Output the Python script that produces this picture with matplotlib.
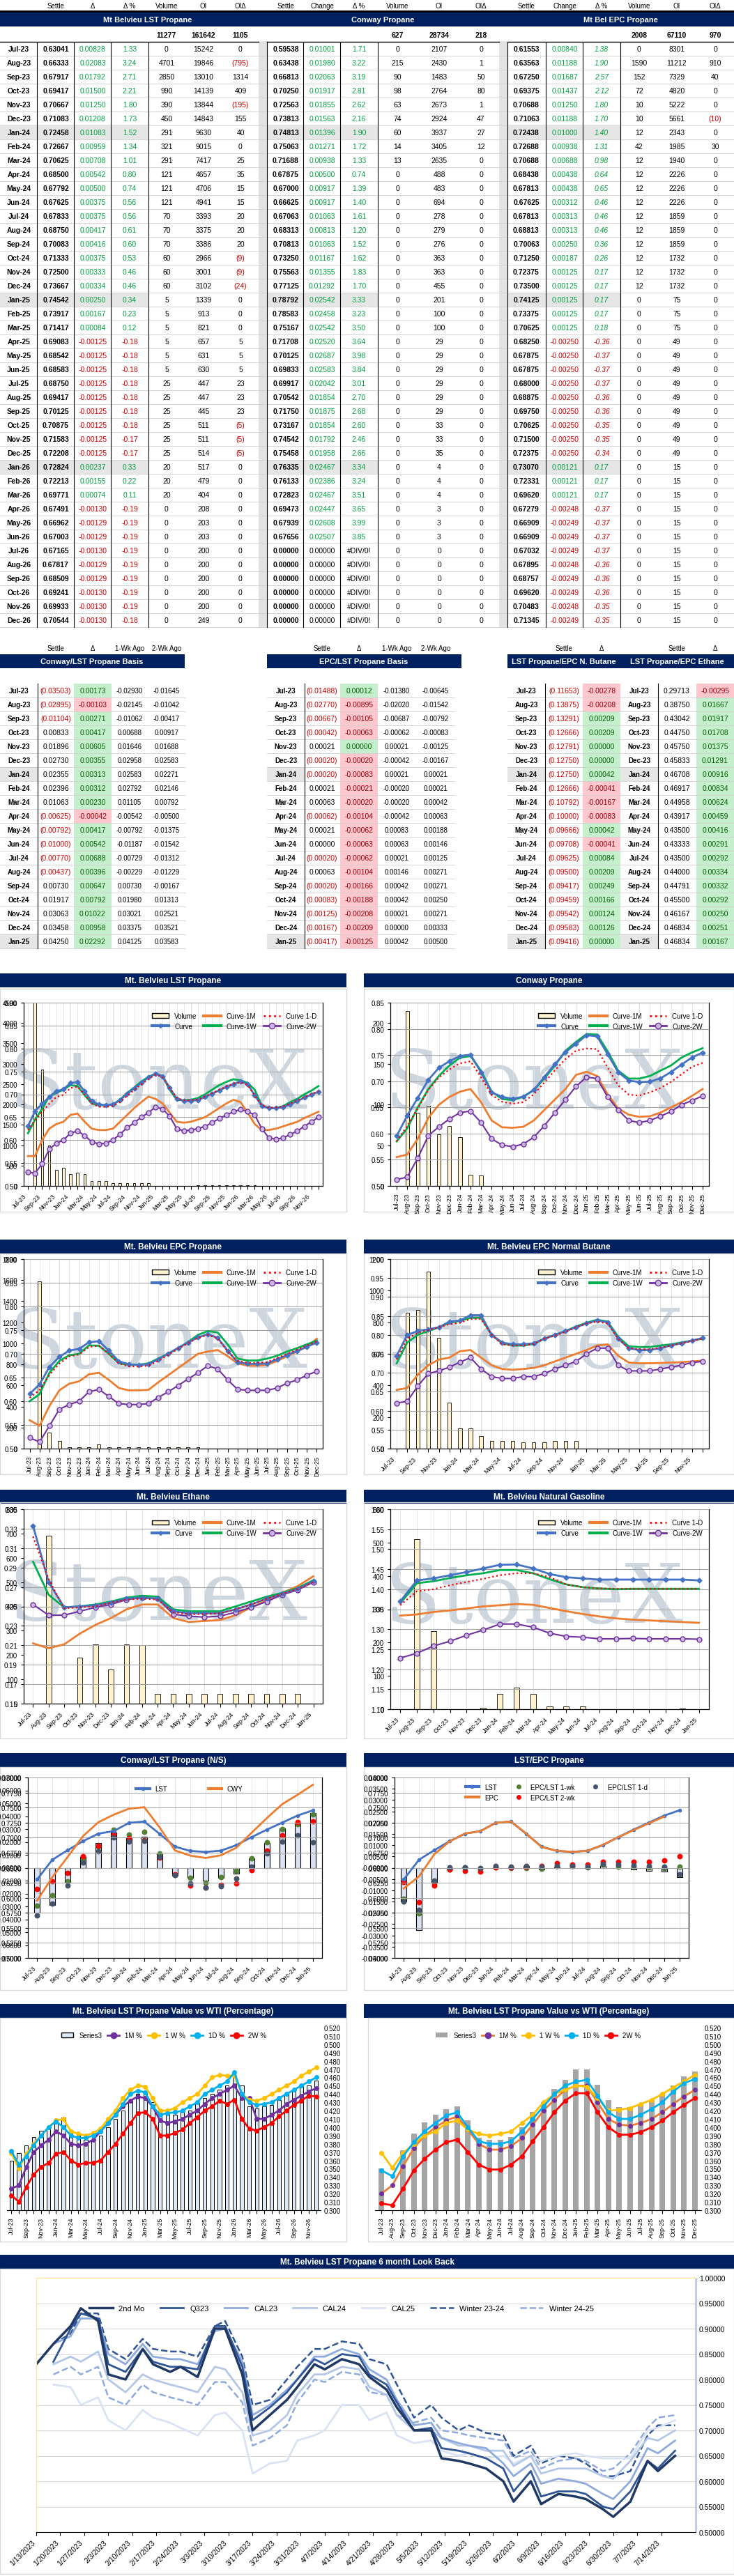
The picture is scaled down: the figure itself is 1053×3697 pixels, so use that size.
import numpy as np
import pandas as pd
import matplotlib
matplotlib.use("Agg")
import matplotlib.pyplot as plt
from matplotlib.patches import Rectangle
from matplotlib.lines import Line2D

plt.rcParams['font.family'] = ['Liberation Sans Narrow', 'Liberation Sans', 'DejaVu Sans']
W, H = 1053, 3698
NAVY = '#002060'

# ---------------- DATA ----------------
months42 = ['Jul-23','Aug-23','Sep-23','Oct-23','Nov-23','Dec-23','Jan-24','Feb-24','Mar-24','Apr-24','May-24','Jun-24',
            'Jul-24','Aug-24','Sep-24','Oct-24','Nov-24','Dec-24','Jan-25','Feb-25','Mar-25','Apr-25','May-25','Jun-25',
            'Jul-25','Aug-25','Sep-25','Oct-25','Nov-25','Dec-25','Jan-26','Feb-26','Mar-26','Apr-26','May-26','Jun-26',
            'Jul-26','Aug-26','Sep-26','Oct-26','Nov-26','Dec-26']

lst_settle = [0.63041,0.66333,0.67917,0.69417,0.70667,0.71083,0.72458,0.72667,0.70625,0.68500,0.67792,0.67625,0.67833,0.68750,
              0.70083,0.71333,0.72500,0.73667,0.74542,0.73917,0.71417,0.69083,0.68542,0.68583,0.68750,0.69417,0.70125,0.70875,
              0.71583,0.72208,0.72824,0.72213,0.69771,0.67491,0.66962,0.67003,0.67165,0.67817,0.68509,0.69241,0.69933,0.70544]
lst_chg = [0.00828,0.02083,0.01792,0.01500,0.01250,0.01208,0.01083,0.00959,0.00708,0.00542,0.00500,0.00375,0.00375,0.00417,
           0.00416,0.00375,0.00333,0.00334,0.00250,0.00167,0.00084,-0.00125,-0.00125,-0.00125,-0.00125,-0.00125,-0.00125,-0.00125,
           -0.00125,-0.00125,0.00237,0.00155,0.00074,-0.00130,-0.00129,-0.00129,-0.00130,-0.00129,-0.00129,-0.00130,-0.00130,-0.00130]
lst_pct = [1.33,3.24,2.71,2.21,1.80,1.73,1.52,1.34,1.01,0.80,0.74,0.56,0.56,0.61,0.60,0.53,0.46,0.46,0.34,0.23,0.12,-0.18,-0.18,
           -0.18,-0.18,-0.18,-0.18,-0.18,-0.17,-0.17,0.33,0.22,0.11,-0.19,-0.19,-0.19,-0.19,-0.19,-0.19,-0.19,-0.19,-0.18]
lst_vol = [0,4701,2850,990,390,450,291,321,291,121,121,121,70,70,70,60,60,60,5,5,5,5,5,5,25,25,25,25,25,25,20,20,20,0,0,0,0,0,0,0,0,0]
lst_oi = [15242,19846,13010,14139,13844,14843,9630,9015,7417,4657,4706,4941,3393,3375,3386,2966,3001,3102,1339,913,821,657,631,630,
          447,447,445,511,511,514,517,479,404,208,203,203,200,200,200,200,200,249]
lst_oid = [0,-795,1314,409,-195,155,40,0,25,35,15,15,20,20,20,-9,-9,-24,0,0,0,5,5,5,23,23,23,-5,-5,-5,0,0,0,0,0,0,0,0,0,0,0,0]
lst_tot = [11277,161642,1105]

cw_settle = [0.59538,0.63438,0.66813,0.70250,0.72563,0.73813,0.74813,0.75063,0.71688,0.67875,0.67000,0.66625,0.67063,0.68313,
             0.70813,0.73250,0.75563,0.77125,0.78792,0.78583,0.75167,0.71708,0.70125,0.69833,0.69917,0.70542,0.71750,0.73167,
             0.74542,0.75458,0.76335,0.76133,0.72823,0.69473,0.67939,0.67656,0,0,0,0,0,0]
cw_chg = [0.01001,0.01980,0.02063,0.01917,0.01855,0.01563,0.01396,0.01271,0.00938,0.00500,0.00917,0.00917,0.01063,0.00813,0.01063,
          0.01167,0.01355,0.01292,0.02542,0.02458,0.02542,0.02520,0.02687,0.02583,0.02042,0.01854,0.01875,0.01854,0.01792,0.01958,
          0.02467,0.02386,0.02467,0.02447,0.02608,0.02507,0,0,0,0,0,0]
cw_pct = [1.71,3.22,3.19,2.81,2.62,2.16,1.90,1.72,1.33,0.74,1.39,1.40,1.61,1.20,1.52,1.62,1.83,1.70,3.33,3.23,3.50,3.64,3.98,3.84,
          3.01,2.70,2.68,2.60,2.46,2.66,3.34,3.24,3.51,3.65,3.99,3.85,None,None,None,None,None,None]
cw_vol = [0,215,90,98,63,74,60,14,13] + [0]*33
cw_oi = [2107,2430,1483,2764,2673,2924,3937,3405,2635,488,483,694,278,279,276,363,363,455,201,100,100,29,29,29,29,29,29,33,33,35,
         4,4,4,3,3,3,0,0,0,0,0,0]
cw_oid = [0,1,50,80,1,47,27,12] + [0]*34
cw_tot = [627,28734,218]

epc_settle = [0.61553,0.63563,0.67250,0.69375,0.70688,0.71063,0.72438,0.72688,0.70688,0.68438,0.67813,0.67625,0.67813,0.68813,
              0.70063,0.71250,0.72375,0.73500,0.74125,0.73375,0.70625,0.68250,0.67875,0.67875,0.68000,0.68875,0.69750,0.70625,
              0.71500,0.72375,0.73070,0.72331,0.69620,0.67279,0.66909,0.66909,0.67032,0.67895,0.68757,0.69620,0.70483,0.71345]
epc_chg = [0.00840,0.01188,0.01687,0.01437,0.01250,0.01188,0.01000,0.00938,0.00688,0.00438,0.00438,0.00312,0.00313,0.00313,0.00250,
           0.00187,0.00125,0.00125,0.00125,0.00125,0.00125,-0.00250,-0.00250,-0.00250,-0.00250,-0.00250,-0.00250,-0.00250,-0.00250,
           -0.00250,0.00121,0.00121,0.00121,-0.00248,-0.00249,-0.00249,-0.00249,-0.00248,-0.00249,-0.00249,-0.00248,-0.00249]
epc_pct = [1.38,1.90,2.57,2.12,1.80,1.70,1.40,1.31,0.98,0.64,0.65,0.46,0.46,0.46,0.36,0.26,0.17,0.17,0.17,0.17,0.18,-0.36,-0.37,
           -0.37,-0.37,-0.36,-0.36,-0.35,-0.35,-0.34,0.17,0.17,0.17,-0.37,-0.37,-0.37,-0.37,-0.36,-0.36,-0.36,-0.35,-0.35]
epc_vol = [0,1590,152,72,10,10,12,42,12,12,12,12,12,12,12,12,12,12] + [0]*24
epc_oi = [8301,11212,7329,4820,5222,5661,2343,1985,1940,2226,2226,2226,1859,1859,1859,1732,1732,1732,75,75,75] + [49]*9 + [15]*12
epc_oid = [0,910,40,0,0,-10,0,30] + [0]*34
epc_tot = [2008,67110,970]

months19 = months42[:19]
cb_settle = [-0.03503,-0.02895,-0.01104,0.00833,0.01896,0.02730,0.02355,0.02396,0.01063,-0.00625,-0.00792,-0.01000,-0.00770,
             -0.00437,0.00730,0.01917,0.03063,0.03458,0.04250]
cb_d = [0.00173,-0.00103,0.00271,0.00417,0.00605,0.00355,0.00313,0.00312,0.00230,-0.00042,0.00417,0.00542,0.00688,0.00396,
        0.00647,0.00792,0.01022,0.00958,0.02292]
cb_1w = [-0.02930,-0.02145,-0.01062,0.00688,0.01646,0.02958,0.02583,0.02792,0.01105,-0.00542,-0.00792,-0.01187,-0.00729,-0.00229,
         0.00730,0.01980,0.03021,0.03375,0.04125]
cb_2w = [-0.01645,-0.01042,-0.00417,0.00917,0.01688,0.02583,0.02271,0.02146,0.00792,-0.00500,-0.01375,-0.01542,-0.01312,-0.01229,
         -0.00167,0.01313,0.02521,0.03521,0.03583]
eb_settle = [-0.01488,-0.02770,-0.00667,-0.00042,0.00021,-0.00020,-0.00020,0.00021,0.00063,-0.00062,0.00021,0.00000,-0.00020,
             0.00063,-0.00020,-0.00083,-0.00125,-0.00167,-0.00417]
eb_d = [0.00012,-0.00895,-0.00105,-0.00063,0.00000,-0.00020,-0.00083,-0.00021,-0.00020,-0.00104,-0.00062,-0.00063,-0.00062,
        -0.00104,-0.00166,-0.00188,-0.00208,-0.00209,-0.00125]
eb_1w = [-0.01380,-0.02020,-0.00687,-0.00062,0.00021,-0.00042,0.00021,-0.00020,-0.00020,-0.00042,0.00083,0.00063,0.00021,0.00146,
         0.00042,0.00042,0.00021,0.00000,0.00042]
eb_2w = [-0.00645,-0.01542,-0.00792,-0.00083,-0.00125,-0.00167,0.00021,0.00021,0.00042,0.00063,0.00188,0.00146,0.00125,0.00271,
         0.00271,0.00250,0.00271,0.00333,0.00500]
bu_settle = [-0.11653,-0.13875,-0.13291,-0.12666,-0.12791,-0.12750,-0.12750,-0.12666,-0.10792,-0.10000,-0.09666,-0.09708,-0.09625,
             -0.09500,-0.09417,-0.09459,-0.09542,-0.09583,-0.09416]
bu_d = [-0.00278,-0.00208,0.00209,0.00209,0.00000,0.00000,0.00042,-0.00041,-0.00167,-0.00083,0.00042,-0.00041,0.00084,0.00209,
        0.00249,0.00166,0.00124,0.00126,0.00000]
et_settle = [0.29713,0.38750,0.43042,0.44750,0.45750,0.45833,0.46708,0.46917,0.44958,0.43917,0.43500,0.43333,0.43500,0.44000,
             0.44791,0.45500,0.46167,0.46834,0.46834]
et_d = [-0.00295,0.01667,0.01917,0.01708,0.01375,0.01291,0.00916,0.00834,0.00624,0.00459,0.00416,0.00291,0.00292,0.00334,0.00332,
        0.00292,0.00250,0.00251,0.00167]

# chart series
lst_1w = [.615,.645,.668,.695,.703,.71,.72,.718,.698,.68,.676,.676,.678,.688,.703,.715,.728,.738,.745,.74,.71,.688,.687,.688,.692,
          .70,.71,.72,.727,.733,.73,.725,.71,.675,.67,.67,.674,.683,.69,.70,.708,.718]
lst_1m = [.565,.565,.60,.625,.635,.64,.655,.658,.64,.625,.622,.622,.625,.64,.655,.67,.683,.695,.69,.68,.66,.64,.638,.64,.645,.65,
          .66,.67,.68,.688,.683,.66,.635,.622,.622,.625,.63,.635,.64,.648,.655,.662]
lst_2w = [.530,.528,.548,.58,.593,.60,.615,.62,.61,.596,.592,.593,.60,.613,.627,.638,.65,.66,.672,.668,.652,.625,.62,.622,.625,.63,
          .638,.647,.655,.662,.667,.662,.655,.625,.605,.602,.605,.612,.62,.63,.64,.65]
cw_1w = [.585,.61,.65,.685,.71,.73,.745,.748,.72,.68,.666,.664,.67,.683,.705,.73,.758,.775,.79,.789,.757,.72,.705,.705,.71,.72,.73,
         .745,.755,.763]
cw_1m = [.555,.56,.59,.63,.655,.67,.68,.685,.66,.625,.612,.611,.613,.625,.645,.665,.685,.712,.718,.71,.675,.648,.636,.632,.633,.64,
         .65,.66,.672,.685]
cw_2w = [.512,.517,.553,.596,.613,.628,.64,.643,.621,.59,.578,.575,.58,.593,.615,.64,.665,.69,.708,.705,.67,.645,.625,.621,.625,
         .633,.642,.655,.663,.672]
epc_1w = [.60,.615,.66,.685,.697,.70,.718,.717,.70,.68,.677,.677,.68,.69,.70,.712,.725,.74,.748,.745,.72,.69,.686,.686,.69,.696,
          .705,.712,.72,.728]
epc_1m = [.56,.548,.59,.623,.637,.642,.657,.66,.645,.628,.623,.623,.624,.64,.655,.67,.685,.70,.705,.708,.695,.68,.675,.675,.677,
          .685,.695,.705,.715,.732]
epc_2w = [.523,.514,.548,.583,.593,.60,.62,.625,.61,.595,.593,.593,.595,.608,.62,.633,.647,.66,.675,.668,.645,.625,.623,.623,.623,
          .628,.638,.645,.655,.663]
bu_curve = [.745,.80,.81,.815,.82,.835,.838,.852,.852,.80,.78,.775,.775,.778,.79,.80,.81,.82,.83,.838,.833,.79,.765,.76,.76,.765,
            .772,.778,.785,.792]
bu_1w = [.725,.78,.80,.81,.82,.832,.837,.845,.845,.80,.778,.772,.772,.776,.79,.80,.81,.822,.832,.84,.835,.795,.77,.768,.768,.772,
         .775,.78,.785,.79]
bu_1d = [.735,.79,.805,.813,.82,.828,.832,.842,.842,.80,.775,.772,.772,.776,.79,.798,.808,.82,.83,.835,.83,.79,.765,.762,.762,.766,
         .772,.778,.784,.79]
bu_1m = [.655,.66,.695,.72,.735,.74,.757,.76,.74,.72,.71,.708,.71,.713,.72,.73,.74,.75,.76,.772,.775,.745,.727,.725,.725,.726,.727,
         .728,.73,.732]
bu_2w = [.62,.625,.665,.698,.705,.715,.728,.74,.71,.69,.685,.685,.69,.69,.698,.71,.72,.73,.75,.765,.765,.72,.705,.705,.705,.71,.715,
         .72,.727,.73]
bu_vol = [0,860,880,1120,700,290,130,130,80,50,50,50,40,40,40,50,50,50] + [0]*12
et_curve = [.333,.275,.249,.250,.251,.254,.258,.259,.258,.245,.243,.243,.243,.247,.252,.258,.263,.268,.276]
et_1w = [.296,.262,.249,.250,.252,.255,.259,.261,.260,.247,.245,.245,.245,.250,.255,.260,.264,.269,.277]
et_1d = [.322,.278,.248,.249,.250,.254,.257,.258,.257,.244,.242,.242,.243,.247,.252,.258,.263,.268,.275]
et_1m = [.212,.207,.211,.222,.231,.238,.247,.252,.252,.238,.234,.235,.236,.241,.249,.256,.264,.271,.281]
et_2w = [.252,.241,.241,.245,.249,.252,.257,.259,.258,.242,.240,.239,.240,.244,.249,.255,.262,.267,.275]
et_vol = [0,690,0,190,245,140,245,240,40,40,40,40,40,40,40,40,40,40,0]
ng_curve = [1.37,1.422,1.427,1.435,1.443,1.452,1.461,1.462,1.452,1.438,1.430,1.427,1.424,1.424,1.424,1.424,1.424,1.424,1.422]
ng_1w = [1.365,1.415,1.42,1.428,1.435,1.44,1.448,1.448,1.44,1.425,1.412,1.405,1.402,1.400,1.401,1.401,1.401,1.401,1.401]
ng_1d = [1.36,1.395,1.40,1.41,1.418,1.426,1.435,1.44,1.44,1.43,1.412,1.405,1.402,1.401,1.401,1.401,1.401,1.401,1.401]
ng_1m = [1.334,1.337,1.343,1.347,1.352,1.357,1.36,1.363,1.361,1.353,1.345,1.338,1.332,1.327,1.324,1.322,1.32,1.318,1.316]
ng_2w = [1.228,1.24,1.258,1.27,1.285,1.298,1.313,1.313,1.305,1.29,1.282,1.28,1.276,1.276,1.277,1.276,1.276,1.276,1.275]
ng_vol = [0,510,235,0,0,5,45,65,45,8,8,8,0,0,0,0,0,3,0]

wl_s3 = [.36,.369,.378,.388,.396,.40,.41,.412,.395,.39,.385,.385,.39,.40,.41,.42,.432,.44,.44,.43,.42,.415,.415,.418,.42,.43,.435,
         .44,.445,.45,.46,.45,.425,.423,.425,.427,.433,.44,.445,.45,.45,.456]
wl_1d = [.371,.355,.365,.378,.39,.40,.407,.40,.39,.387,.387,.39,.395,.405,.415,.428,.44,.444,.442,.425,.415,.417,.418,.42,.425,.43,
         .44,.445,.45,.455,.466,.44,.43,.427,.428,.43,.435,.44,.445,.45,.455,.46]
wl_1w = [.369,.350,.368,.38,.39,.40,.408,.41,.395,.392,.39,.393,.398,.41,.42,.435,.445,.45,.449,.435,.42,.42,.423,.43,.435,.44,.45,
         .46,.463,.462,.462,.44,.433,.432,.435,.44,.445,.45,.455,.462,.467,.472]
wl_1m = [.326,.33,.352,.37,.378,.385,.395,.39,.38,.378,.38,.385,.395,.405,.415,.425,.432,.437,.435,.425,.408,.405,.407,.41,.415,.42,
         .428,.435,.44,.445,.45,.435,.435,.41,.41,.415,.42,.428,.433,.438,.443,.447]
wl_2w = [.318,.31,.328,.343,.352,.357,.368,.37,.36,.355,.357,.357,.36,.37,.38,.392,.405,.417,.418,.41,.39,.39,.393,.397,.405,.412,
         .42,.425,.432,.428,.433,.41,.398,.396,.40,.405,.413,.42,.427,.432,.438,.437]
wr_s3 = [.35,.30,.372,.392,.406,.415,.422,.425,.408,.387,.385,.385,.388,.40,.418,.43,.446,.457,.47,.47,.451,.433,.424,.424,.428,.433,
         .44,.45,.461,.467]
wr_1d = [.348,.341,.365,.382,.395,.405,.414,.418,.40,.383,.38,.38,.383,.395,.41,.425,.44,.45,.455,.457,.438,.418,.41,.41,.415,.422,
         .43,.443,.453,.458]
wr_1w = [.369,.351,.369,.38,.39,.395,.405,.408,.397,.392,.39,.392,.395,.405,.415,.43,.44,.445,.45,.449,.435,.42,.421,.423,.428,.433,
         .44,.448,.455,.463]
wr_1m = [.32,.33,.353,.375,.39,.40,.408,.413,.397,.38,.373,.373,.377,.387,.403,.42,.433,.445,.45,.45,.43,.41,.403,.402,.405,.41,.418,
         .428,.437,.445]
wr_2w = [.308,.306,.326,.348,.362,.373,.382,.385,.37,.355,.349,.349,.355,.365,.383,.40,.418,.432,.441,.441,.418,.40,.391,.391,.394,
         .40,.408,.418,.427,.435]

lb_2nd = [.83,.87,.905,.94,.915,.81,.80,.86,.83,.815,.825,.805,.90,.90,.81,.70,.73,.76,.785,.83,.82,.84,.83,.805,.78,.745,.70,.70,
          .645,.64,.635,.625,.60,.56,.60,.555,.575,.57,.565,.545,.53,.56,.64,.62,.65]
lb_q323 = [np.nan,.835,.90,.93,.92,.83,.815,.86,.835,.825,.825,.82,.905,.905,.825,.72,.745,.775,.80,.84,.83,.85,.845,.81,.79,.755,
           .70,.705,.665,.66,.655,.645,.625,.58,.62,.57,.58,.58,.575,.55,.545,.58,.64,.625,.66]
lb_cal23 = [np.nan,.87,.885,.92,.92,.85,.83,.87,.845,.84,.84,.83,.895,.90,.835,.73,.75,.78,.80,.845,.845,.86,.85,.82,.80,.76,.71,
            .715,.685,.675,.67,.665,.635,.61,.635,.595,.605,.60,.595,.575,.565,.60,.665,.655,.68]
lb_cal24 = [np.nan,.83,.845,.835,.855,.80,.775,.81,.80,.79,.785,.775,.825,.82,.775,.69,.70,.73,.77,.81,.81,.825,.82,.785,.77,.73,
            .70,.70,.685,.67,.67,.66,.66,.63,.65,.615,.625,.625,.625,.61,.605,.64,.685,.68,.70]
lb_cal25 = [np.nan,.79,.785,.75,.765,.72,.70,.74,.725,.715,.705,.69,.73,.735,.70,.615,.635,.64,.68,.69,.70,.75,.75,.72,.735,.69,
            .675,.68,.66,.65,.655,.645,.65,.635,.65,.64,.65,.655,.65,.645,.645,.645,.70,.705,.72]
lb_w2324 = [np.nan,.87,.89,.93,.93,.86,.84,.88,.86,.855,.855,.845,.905,.915,.845,.75,.76,.80,.825,.86,.86,.875,.87,.84,.83,.79,
            .725,.75,.725,.70,.71,.695,.69,.65,.67,.635,.65,.645,.635,.61,.61,.62,.69,.71,.71]
lb_w2425 = [np.nan,.81,.825,.81,.825,.765,.75,.79,.775,.765,.76,.75,.795,.795,.755,.67,.685,.71,.755,.80,.795,.815,.81,.775,.77,
            .73,.715,.725,.70,.695,.69,.685,.68,.645,.66,.625,.64,.645,.64,.62,.625,.655,.705,.725,.73]

# ---------------- FIGURE ----------------
fig = plt.figure(figsize=(W/100, H/100), dpi=100)
fig.patch.set_facecolor('white')
A = fig.add_axes([0, 0, 1, 1])
A.set_xlim(0, W); A.set_ylim(H, 0); A.axis('off')

def add(x, y, w, h):
    return fig.add_axes([x/W, 1-(y+h)/H, w/W, h/H])

def rect(x, y, w, h, fc, ec='none', lw=0.6, z=1):
    A.add_patch(Rectangle((x, y), w, h, facecolor=fc, edgecolor=ec, lw=lw, zorder=z))

def txt(x, y, s, color='black', size=7.5, weight='normal', style='normal', ha='center'):
    A.text(x, y, s, color=color, fontsize=size, fontweight=weight, style=style, ha=ha, va='center', zorder=5)

GREEN, RED = '#00A040', '#D00000'

# ---- top table ----
blocks = [
    dict(name='Mt Belvieu LST Propane', cols=[80,133,186,239,292,345], x0=53, x1=371, settle=lst_settle, chg=lst_chg,
         pct=lst_pct, vol=lst_vol, oi=lst_oi, oid=lst_oid, tot=lst_tot, hdr=['Settle','Δ','Δ %','Volume','OI','OIΔ'], it=False),
    dict(name='Conway Propane', cols=[410,462,515,570,630,690], x0=383, x1=716, settle=cw_settle, chg=cw_chg,
         pct=cw_pct, vol=cw_vol, oi=cw_oi, oid=cw_oid, tot=cw_tot, hdr=['Settle','Change','Δ %','Volume','OI','OIΔ'], it=False),
    dict(name='Mt Bel EPC Propane', cols=[755,810,863,917,971,1026], x0=728, x1=1053, settle=epc_settle, chg=epc_chg,
         pct=epc_pct, vol=epc_vol, oi=epc_oi, oid=epc_oid, tot=epc_tot, hdr=['Settle','Change','Δ %','Volume','OI','OIΔ'], it=True),
]
rect(0, 18, W, 21, NAVY)
A.plot([0, W], [17, 17], color='black', lw=2, zorder=3)
rect(371, 60, 12, 842, '#e3e3e3'); rect(716, 60, 12, 842, '#e3e3e3')
for i, m in enumerate(months42):
    y = 71 + i*20
    if m.startswith('Jan'):
        rect(0, y-10, 212, 20, '#e6e6e6'); rect(383, y-10, 159, 20, '#e6e6e6'); rect(728, y-10, 162, 20, '#e6e6e6')
    txt(27, y, m, weight='bold')
    A.plot([0, W], [y+10, y+10], color='#d0d0d0', lw=0.6, zorder=2)
for b in blocks:
    c = b['cols']
    for cx, h in zip(c, b['hdr']):
        txt(cx, 9, h, size=7)
    txt((b['x0'] + b['x1'])/2, 28.5, b['name'], color='white', weight='bold', size=8)
    for cx, v in zip(c[3:], b['tot']):
        txt(cx, 51, str(v), weight='bold')
    A.plot([b['x0']-53 if b['x0'] == 53 else b['x0'], b['x1']], [61, 61], color='black', lw=1, zorder=3)
    for xx in [c[0]-27, c[1]-27, c[2]-27, c[2]+27]:
        A.plot([xx, xx], [61, 901], color='black', lw=0.8, zorder=3)
    for i in range(42):
        y = 71 + i*20
        s = b['settle'][i]; ch = b['chg'][i]; p = b['pct'][i]
        txt(c[0], y, f"{s:.5f}", weight='bold')
        col = GREEN if ch >= 0 else RED
        txt(c[1], y, f"{ch:.5f}", color=col if s != 0 else 'black')
        if p is None:
            txt(c[2], y, '#DIV/0!')
        else:
            txt(c[2], y, f"{p:.2f}", color=GREEN if p >= 0 else RED, style='italic' if b['it'] else 'normal')
        txt(c[3], y, str(b['vol'][i])); txt(c[4], y, str(b['oi'][i]))
        od = b['oid'][i]
        txt(c[5], y, f"({-od})" if od < 0 else str(od), color=RED if od < 0 else 'black')

# ---- second tables ----
def fmt_par(v):
    return (f"({-v:.5f})", RED) if v < 0 else (f"{v:.5f}", 'black')

def dcell(x, y, v):
    fc = '#C6EFCE' if v >= 0 else '#FFC7CE'
    rect(x-27, y-10, 54, 20, fc)
    txt(x, y, f"{v:.5f}", color='#006100' if v >= 0 else '#9C0006')

sec = [(0, 265, 'Conway/LST Propane Basis', [27,80,133,186,239], ['Settle','Δ','1-Wk Ago','2-Wk Ago']),
       (383, 662, 'EPC/LST Propane Basis', [410,462,515,569,625], ['Settle','Δ','1-Wk Ago','2-Wk Ago'])]
rect(0, 940, 265, 20, NAVY); rect(383, 940, 279, 20, NAVY); rect(728, 940, 325, 20, NAVY)
txt(132, 950, sec[0][2], color='white', weight='bold', size=8)
txt(522, 950, sec[1][2], color='white', weight='bold', size=8)
txt(809, 950, 'LST Propane/EPC N. Butane', color='white', weight='bold', size=8)
txt(971, 950, 'LST Propane/EPC Ethane', color='white', weight='bold', size=8)
for cx, h in zip([80,133,186,239], sec[0][4]): txt(cx, 931, h, size=7)
for cx, h in zip([462,515,569,625], sec[1][4]): txt(cx, 931, h, size=7)
for cx, h in zip([809,863,971,1026], ['Settle','Δ','Settle','Δ']): txt(cx, 931, h, size=7)
tabs = [([27,80,133,186,239], cb_settle, cb_d, cb_1w, cb_2w), ([410,462,515,569,625], eb_settle, eb_d, eb_1w, eb_2w)]
for i, m in enumerate(months19):
    y = 992 + i*20
    for c, st, d, w1, w2 in tabs:
        if m.startswith('Jan'): rect(c[0]-27, y-10, 54, 20, '#e6e6e6')
        txt(c[0], y, m, weight='bold', size=7)
        s, col = fmt_par(st[i]); txt(c[1], y, s, color=col)
        dcell(c[2], y, d[i])
        txt(c[3], y, f"{w1[i]:.5f}", size=7); txt(c[4], y, f"{w2[i]:.5f}", size=7)
        A.plot([c[0]-27, c[4]+27], [y+10, y+10], color='#d0d0d0', lw=0.6, zorder=2)
        A.plot([c[0]+27, c[0]+27], [y-10, y+10], color='black', lw=0.8, zorder=3)
    if m.startswith('Jan'):
        rect(728, y-10, 54, 20, '#e6e6e6'); rect(890, y-10, 54, 20, '#e6e6e6')
    txt(755, y, m, weight='bold', size=7); s, col = fmt_par(bu_settle[i]); txt(809, y, s, color=col); dcell(863, y, bu_d[i])
    txt(917, y, m, weight='bold', size=7); txt(971, y, f"{et_settle[i]:.5f}"); dcell(1026, y, et_d[i])
    A.plot([728, 1053], [y+10, y+10], color='#d0d0d0', lw=0.6, zorder=2)
    for xx in [782, 944]:
        A.plot([xx, xx], [y-10, y+10], color='black', lw=0.8, zorder=3)

# ---- chart helpers ----
def title_bar(y, x0, x1, t):
    rect(x0, y, x1-x0, 20, NAVY)
    txt((x0+x1)/2, y+10, t, color='white', weight='bold', size=8.5)

def box(x0, y0, x1, y1):
    A.add_patch(Rectangle((x0, y0), x1-x0, y1-y0, facecolor='none', edgecolor='#d9d9d9', lw=1, zorder=2))

C_CURVE, C_1W, C_1D, C_1M, C_2W = '#4472C4', '#00B050', '#FF0000', '#ED7D31', '#7030A0'

def curve_chart(px, labels, curve, c1w, c1d, c1m, c2w, vol, ylim, ystep, vlim, vstep, lstep, rot, leg_ncol=3, leg_y=0.98):
    av = add(*px)
    n = len(curve); x = np.arange(n)
    av.bar(x, vol, width=0.35, color='#FFF2CC', edgecolor='black', lw=0.6, zorder=2)
    av.set_ylim(*vlim); av.set_yticks(np.arange(vlim[0], vlim[1]+1, vstep))
    av.yaxis.tick_right(); av.tick_params(axis='y', labelsize=7, length=3)
    av.text(0.45, 0.55, 'StoneX', transform=av.transAxes, fontsize=85, family='DejaVu Serif', color='#cdd6df',
            ha='center', va='center', zorder=1)
    al = av.twinx(); al.yaxis.tick_left()
    al.plot(x, c1m, color=C_1M, lw=2, zorder=4)
    al.plot(x, c2w, color=C_2W, lw=1.5, marker='o', ms=5, mfc='#C9B8E0', mec=C_2W, zorder=4)
    al.plot(x, c1w, color=C_1W, lw=2, zorder=5)
    al.plot(x, curve, color=C_CURVE, lw=2, marker='D', ms=3.5, zorder=6)
    al.plot(x, c1d, color=C_1D, lw=1.6, ls=':', zorder=7)
    al.set_ylim(*ylim); al.set_yticks(np.arange(ylim[0], ylim[1]+ystep/2, ystep))
    al.yaxis.set_major_formatter(matplotlib.ticker.FormatStrFormatter('%.2f' if ystep >= 0.01 else '%.3f'))
    al.tick_params(axis='y', labelsize=7, length=3)
    al.grid(axis='y', color='#a6a6a6', lw=0.8)
    av.set_xticks(x); av.set_xticklabels([l if i % lstep == 0 else '' for i, l in enumerate(labels)], rotation=rot, fontsize=6.5,
                                         ha='right' if rot == 45 else 'center')
    av.grid(axis='x', color='#e0e0e0', lw=0.6)
    av.set_xlim(-0.6, n-0.4)
    for a in (av, al):
        for s in a.spines.values(): s.set_visible(False)
        a.spines['left'].set_visible(True); a.spines['right'].set_visible(True); a.spines['bottom'].set_visible(True)
    handles = [Rectangle((0, 0), 1, 1, fc='#FFF2CC', ec='black'), Line2D([], [], color=C_CURVE, lw=3, marker='D', ms=3),
               Line2D([], [], color=C_1M, lw=3), Line2D([], [], color=C_1W, lw=3),
               Line2D([], [], color=C_1D, lw=2, ls=':'), Line2D([], [], color=C_2W, lw=2, marker='o', mfc='#C9B8E0')]
    lbls = ['Volume', 'Curve', 'Curve-1M', 'Curve-1W', 'Curve 1-D', 'Curve-2W']
    al.legend(handles, lbls, ncol=leg_ncol, loc='upper right', bbox_to_anchor=(1.0, leg_y), frameon=False, fontsize=7,
              handlelength=2.5, columnspacing=1.0)
    return av, al

def mlab(lst):
    return lst

# Row 1
title_bar(1398, 0, 497, 'Mt. Belvieu LST Propane'); title_bar(1398, 522, 1053, 'Conway Propane')
box(0, 1420, 497, 1740); box(522, 1420, 1053, 1740)
lst_1d = [s - c for s, c in zip(lst_settle, lst_chg)]
curve_chart((34, 1440, 429, 263), months42, lst_settle, lst_1w, lst_1d, lst_1m, lst_2w, lst_vol, (0.50, 0.90), 0.05,
            (0, 4500), 500, 2, 45)
cw_1d = [s - c for s, c in zip(cw_settle[:30], cw_chg[:30])]
curve_chart((560, 1440, 457, 263), months42[:30], cw_settle[:30], cw_1w, cw_1d, cw_1m, cw_2w, cw_vol[:30], (0.50, 0.85), 0.05,
            (0, 225), 50, 1, 90)

# Row 2
title_bar(1780, 0, 497, 'Mt. Belvieu EPC Propane'); title_bar(1780, 522, 1053, 'Mt. Belvieu EPC Normal Butane')
box(0, 1800, 497, 2117); box(522, 1800, 1053, 2117)
epc_1d = [s - c for s, c in zip(epc_settle[:30], epc_chg[:30])]
curve_chart((34, 1808, 429, 272), months42[:30], epc_settle[:30], epc_1w, epc_1d, epc_1m, epc_2w, epc_vol[:30], (0.50, 0.90),
            0.05, (0, 1800), 200, 1, 90)
curve_chart((560, 1808, 457, 272), months42[:30], bu_curve, bu_1w, bu_1d, bu_1m, bu_2w, bu_vol, (0.50, 1.00), 0.05,
            (0, 1200), 200, 2, 45)

# Row 3
title_bar(2139, 0, 497, 'Mt. Belvieu Ethane'); title_bar(2139, 522, 1053, 'Mt. Belvieu Natural Gasoline')
box(0, 2157, 497, 2496); box(522, 2157, 1053, 2496)
curve_chart((34, 2167, 429, 279), months19, et_curve, et_1w, et_1d, et_1m, et_2w, et_vol, (0.15, 0.35), 0.02,
            (0, 800), 100, 1, 45)
curve_chart((560, 2167, 457, 287), months19[:19], ng_curve, ng_1w, ng_1d, ng_1m, ng_2w, ng_vol, (1.10, 1.60), 0.05,
            (0, 600), 100, 1, 45)

# Row 4 spread charts
def spread_chart(px, labels, l1, l2, n1, n2, bars, wk1, wk2, d1, rlim, rstep, c2):
    ab = add(*px); n = len(bars); x = np.arange(n)
    ab.bar(x, bars, width=0.35, color='#D9E1F2', edgecolor='black', lw=0.8, zorder=2)
    ab.scatter(x, wk1, color='#548235', s=22, zorder=4)
    ab.scatter(x, wk2, color='#FF0000', s=22, zorder=4)
    ab.scatter(x, d1, color='#44546A', s=22, zorder=5)
    ab.set_ylim(*rlim); ab.set_yticks(np.arange(rlim[0], rlim[1]+rstep/2, rstep))
    ab.yaxis.tick_right(); ab.yaxis.set_major_formatter(matplotlib.ticker.FormatStrFormatter('%.5f'))
    ab.tick_params(axis='y', labelsize=7, length=3)
    al = ab.twinx(); al.yaxis.tick_left()
    al.plot(np.arange(len(l1)), l1, color='#4472C4', lw=2, marker='o', ms=3, zorder=6)
    al.plot(np.arange(len(l2)), l2, color='#ED7D31', lw=2, zorder=6)
    al.set_ylim(0.50, 0.80); al.set_yticks(np.arange(0.50, 0.8001, 0.025))
    al.yaxis.set_major_formatter(matplotlib.ticker.FormatStrFormatter('%.4f'))
    al.tick_params(axis='y', labelsize=7, length=3)
    al.grid(axis='y', color='#a6a6a6', lw=0.8)
    ab.set_xticks(x); ab.set_xticklabels(labels, rotation=45, ha='right', fontsize=6.5)
    ab.grid(axis='x', color='#e0e0e0', lw=0.6); ab.set_xlim(-0.6, n-0.4)
    for a in (ab, al):
        a.spines['top'].set_visible(False)
    h = [Line2D([], [], color='#4472C4', lw=3, marker='o', ms=3), Line2D([], [], color='#ED7D31', lw=3)]
    lb = [n1, n2]
    if c2:
        h += [Line2D([], [], color='#548235', marker='o', ls='none', ms=4), Line2D([], [], color='#FF0000', marker='o', ls='none', ms=4),
              Line2D([], [], color='#44546A', marker='o', ls='none', ms=4)]
        lb += ['EPC/LST 1-wk', 'EPC/LST 2-wk', 'EPC/LST 1-d']
        al.legend(h, lb, ncol=3, loc='upper center', frameon=False, fontsize=7, bbox_to_anchor=(0.55, 1.0))
    else:
        al.legend(h, lb, ncol=2, loc='upper center', frameon=False, fontsize=7, bbox_to_anchor=(0.55, 0.99), columnspacing=6)

title_bar(2517, 0, 497, 'Conway/LST Propane (N/S)'); title_bar(2517, 522, 1053, 'LST/EPC Propane')
box(0, 2537, 497, 2857); box(522, 2537, 1053, 2857)
cb_1d = [s - d for s, d in zip(cb_settle, cb_d)]
eb_1d = [s - d for s, d in zip(eb_settle, eb_d)]
spread_chart((40, 2552, 422, 259), months19, lst_settle[:19], cw_settle[:19], 'LST', 'CWY', cb_settle, cb_1w, cb_2w, cb_1d,
             (-0.07, 0.07), 0.01, False)
spread_chart((566, 2552, 422, 259), months19, lst_settle[:19], epc_settle[:18], 'LST', 'EPC', eb_settle, eb_1w, eb_2w, eb_1d,
             (-0.04, 0.04), 0.005, True)

# Row 5 WTI
def wti_chart(px, labels, s3, d1, w1, m1, w2, barstyle, lstep, m1col):
    a = add(*px); n = len(s3); x = np.arange(n)
    if barstyle == 'outline':
        a.bar(x, s3, width=0.5, color='#DEEBF7', edgecolor='black', lw=0.7, zorder=2)
    else:
        a.bar(x, s3, width=0.5, color='#A5A5A5', zorder=2)
    a.plot(x, m1, color=m1col, lw=2, marker='o', ms=4, mfc='#7030A0', mec='#7030A0', zorder=4)
    a.plot(x, w1, color='#FFC000', lw=2, marker='o', ms=4, zorder=5)
    a.plot(x, d1, color='#00B0F0', lw=2, marker='o', ms=4, zorder=6)
    a.plot(x, w2, color='#FF0000', lw=2, marker='o', ms=4, zorder=7)
    a.set_ylim(0.30, 0.52); a.set_yticks(np.arange(0.30, 0.5201, 0.01))
    a.yaxis.set_major_formatter(matplotlib.ticker.FormatStrFormatter('%.3f'))
    a.yaxis.tick_right(); a.tick_params(axis='y', labelsize=7, length=0)
    a.set_xticks(x); a.set_xticklabels([l if i % lstep == 0 else '' for i, l in enumerate(labels)], rotation=90, fontsize=6.5)
    a.set_xlim(-0.6, n-0.4)
    for s in ['top', 'right', 'left']: a.spines[s].set_visible(False)
    h = [Rectangle((0, 0), 1, 1, fc='#DEEBF7' if barstyle == 'outline' else '#A5A5A5', ec='black' if barstyle == 'outline' else 'none'),
         Line2D([], [], color=m1col, lw=2, marker='o', mfc='#7030A0', mec='#7030A0'),
         Line2D([], [], color='#FFC000', lw=2, marker='o'), Line2D([], [], color='#00B0F0', lw=2, marker='o'),
         Line2D([], [], color='#FF0000', lw=2, marker='o')]
    a.legend(h, ['Series3', '1M %', '1 W %', '1D %', '2W %'], ncol=5, loc='upper center', frameon=False, fontsize=7,
             handlelength=1.8, columnspacing=0.8, bbox_to_anchor=(0.5, 1.01))

title_bar(2877, 0, 497, 'Mt. Belvieu LST Propane Value vs WTI (Percentage)')
title_bar(2877, 522, 1053, 'Mt. Belvieu LST Propane Value vs WTI (Percentage)')
box(0, 2897, 497, 3218); box(528, 2897, 1053, 3218)
wti_chart((10, 2911, 450, 262), months42, wl_s3, wl_1d, wl_1w, wl_1m, wl_2w, 'outline', 2, '#7030A0')
wti_chart((538, 2911, 468, 262), months42[:30], wr_s3, wr_1d, wr_1w, wr_1m, wr_2w, 'gray', 1, '#ED7D31')

# Row 6 lookback
title_bar(3237, 0, 1053, 'Mt. Belvieu LST Propane 6 month Look Back')
box(0, 3257, 1053, 3695)
bdays = pd.bdate_range('2023-01-13', '2023-07-21')[::3]
al6 = add(52, 3270, 946, 365)
series6 = [('2nd Mo', lb_2nd, '#1F3864', '-', 2.5), ('Q323', lb_q323, '#2F5597', '-', 2.0), ('CAL23', lb_cal23, '#8FAADC', '-', 2.0),
           ('CAL24', lb_cal24, '#B4C7E7', '-', 2.0), ('CAL25', lb_cal25, '#DAE3F3', '-', 2.0),
           ('Winter 23-24', lb_w2324, '#2F5597', '--', 1.8), ('Winter 24-25', lb_w2425, '#8FAADC', '--', 1.8)]
for name, v, c, ls, lw in series6[::-1]:
    al6.plot(bdays[:len(v)], v, color=c, ls=ls, lw=lw, label=name)
h, l = al6.get_legend_handles_labels()
al6.legend(h[::-1], l[::-1], ncol=7, loc='upper left', bbox_to_anchor=(0.07, 0.92), frameon=False, fontsize=8, handlelength=3)
al6.set_ylim(0.50, 1.00); al6.set_yticks(np.arange(0.50, 1.0001, 0.05))
al6.yaxis.set_major_formatter(matplotlib.ticker.FormatStrFormatter('%.5f'))
al6.yaxis.tick_right(); al6.tick_params(axis='y', labelsize=7.5, length=0)
wk = pd.date_range('2023-01-13', '2023-07-14', freq='7D')
al6.set_xticks(wk); al6.set_xticklabels([f"{d.month}/{d.day}/{d.year}" for d in wk], rotation=45, ha='right', fontsize=7.5)
al6.set_xlim(pd.Timestamp('2023-01-13'), pd.Timestamp('2023-07-24'))
al6.grid(axis='y', color='#d9d9d9', lw=0.8)
for s in ['top', 'left']: al6.spines[s].set_color('#FFE699')
al6.spines['right'].set_color('#4472C4')

fig.savefig('out.png', dpi=100, facecolor='white')
